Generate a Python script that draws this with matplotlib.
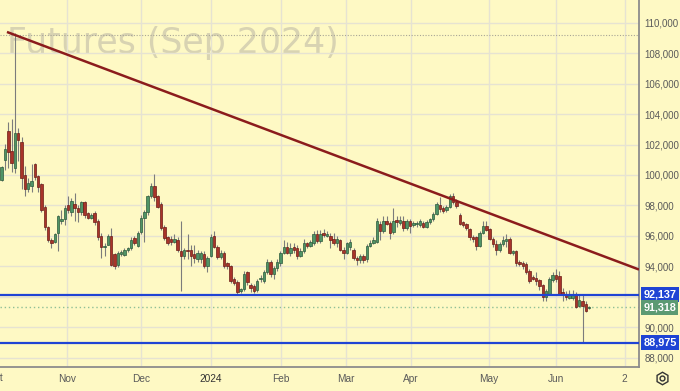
import numpy as np
import matplotlib.pyplot as plt
from matplotlib.transforms import blended_transform_factory

# daily candles, prices in thousands
opens = [99.7, 101.0, 102.87, 101.6, 100.45, 102.74, 102.15, 100.0, 99.1, 99.3,
         100.7, 99.9, 99.4, 97.9, 96.6, 95.7, 95.6, 96.2, 97.0, 97.1,
         98.0, 97.6, 98.1, 97.85, 97.6, 98.2, 97.5, 97.2, 97.5, 97.0,
         96.0, 95.25, 95.4, 96.0, 94.8, 94.1, 94.8, 94.75, 95.05, 95.2,
         95.85, 95.35, 96.25, 97.2, 97.6, 98.6, 99.3, 98.6, 98.1, 96.6,
         95.9, 95.8, 95.6, 95.7, 95.0, 94.65, 95.1, 95.05, 94.8, 94.5,
         94.5, 94.8, 94.05, 94.65, 96.0, 95.3, 94.6, 94.85, 94.2, 94.0,
         93.2, 93.0, 92.4, 92.5, 93.6, 92.75, 92.7, 92.45, 93.15, 93.05,
         93.6, 94.3, 93.5, 93.9, 94.2, 94.9, 95.3, 94.9, 95.3, 95.2,
         94.7, 95.0, 95.5, 95.35, 95.5, 96.15, 95.65, 96.2, 96.0, 96.0,
         95.8, 95.55, 95.7, 95.1, 94.9, 95.3, 95.05, 94.55, 94.4, 94.65,
         94.45, 95.35, 95.55, 95.6, 96.8, 96.35, 96.95, 96.85, 96.25, 97.05,
         96.85, 97.0, 96.55, 96.95, 96.7, 96.75, 96.7, 96.85, 96.6, 96.9,
         97.1, 97.45, 98.0, 97.85, 97.7, 97.9, 98.65, 98.25, 97.4, 96.9,
         96.75, 96.45, 95.95, 95.9, 95.35, 96.2, 96.65, 96.45, 95.8, 95.45,
         95.1, 95.45, 95.65, 95.8, 94.87, 95.0, 94.3, 94.2, 94.15, 93.7,
         93.3, 93.25, 93.1, 92.75, 92.0, 92.2, 93.1, 93.4, 93.35, 92.3,
         92.1, 91.95, 91.95, 92.1, 91.4, 91.75, 91.55, 91.25]
highs = [100.6, 102.06, 103.5, 103.7, 109.3, 103.1, 102.5, 100.6, 99.83, 100.7,
         100.8, 100.0, 99.5, 98.0, 96.65, 95.85, 96.2, 97.35, 97.7, 98.0,
         98.65, 98.5, 98.8, 98.0, 98.3, 98.3, 97.6, 97.5, 97.65, 97.1,
         96.2, 95.5, 96.1, 96.55, 94.9, 95.0, 95.05, 95.2, 95.3, 95.9,
         96.0, 96.35, 97.35, 97.7, 98.7, 99.5, 100.05, 98.7, 98.2, 96.7,
         96.0, 96.0, 96.1, 95.9, 97.0, 95.2, 96.1, 95.4, 95.4, 95.1,
         95.0, 95.0, 94.7, 96.15, 96.3, 95.4, 95.05, 95.0, 94.3, 94.1,
         93.3, 93.1, 92.6, 93.7, 93.7, 92.9, 92.85, 93.2, 93.4, 93.75,
         94.5, 94.4, 94.0, 94.45, 95.0, 95.7, 95.6, 95.5, 95.5, 95.4,
         95.2, 95.8, 95.6, 95.7, 96.35, 96.4, 96.4, 96.45, 96.3, 96.2,
         96.2, 96.0, 95.8, 95.3, 95.6, 95.8, 95.2, 94.65, 94.8, 94.8,
         95.45, 95.7, 95.9, 97.15, 97.0, 97.3, 97.3, 97.0, 97.85, 97.3,
         97.3, 97.3, 97.1, 97.1, 97.0, 97.0, 97.1, 97.0, 97.05, 97.2,
         97.6, 98.2, 98.55, 97.95, 98.0, 98.75, 98.8, 98.4, 97.5, 97.0,
         96.85, 96.5, 96.05, 96.0, 96.3, 97.0, 97.0, 96.55, 95.9, 95.7,
         95.6, 96.0, 96.1, 95.95, 95.1, 95.1, 94.4, 94.35, 94.3, 93.8,
         93.4, 93.6, 93.2, 92.85, 92.5, 93.3, 93.6, 93.8, 93.7, 92.6,
         92.4, 92.45, 92.45, 92.3, 92.1, 92.1, 91.75, 91.4]
lows = [99.6, 100.3, 100.44, 100.2, 100.1, 100.95, 99.1, 98.65, 98.86, 98.86,
        99.7, 98.9, 97.6, 96.4, 95.6, 95.2, 95.5, 95.0, 96.8, 96.7,
        97.5, 97.3, 97.0, 96.9, 97.4, 97.2, 97.1, 97.1, 96.7, 95.7,
        94.55, 94.7, 95.4, 94.05, 93.8, 93.95, 94.7, 94.7, 94.95, 95.1,
        95.4, 95.25, 96.1, 95.6, 97.4, 98.5, 98.3, 97.8, 96.4, 95.7,
        95.4, 95.4, 95.5, 94.97, 92.35, 94.5, 94.5, 94.05, 94.25, 94.3,
        94.2, 93.9, 93.6, 94.6, 95.2, 94.5, 94.5, 93.9, 93.8, 92.9,
        92.8, 92.2, 92.25, 92.4, 92.8, 92.3, 92.25, 92.3, 93.0, 92.9,
        93.5, 93.3, 93.2, 93.7, 94.0, 94.8, 94.8, 94.7, 94.9, 94.5,
        94.6, 94.9, 95.2, 95.3, 95.4, 95.5, 95.5, 95.95, 95.9, 95.2,
        95.4, 95.3, 95.0, 94.5, 94.8, 95.1, 94.4, 94.1, 94.2, 94.2,
        94.3, 95.25, 95.45, 95.5, 95.7, 96.2, 96.7, 95.8, 96.1, 96.6,
        96.7, 96.3, 96.4, 96.2, 96.6, 96.6, 96.6, 96.5, 96.5, 96.8,
        97.0, 97.35, 97.6, 97.5, 97.55, 97.8, 98.1, 97.85, 96.7, 96.6,
        96.4, 95.75, 95.6, 95.1, 95.25, 96.1, 96.3, 95.7, 95.3, 94.72,
        94.95, 95.35, 95.25, 94.8, 94.75, 94.05, 94.0, 93.8, 93.5, 92.9,
        93.1, 92.75, 92.45, 91.7, 91.7, 92.1, 93.0, 93.0, 92.1, 91.75,
        91.8, 91.85, 91.8, 91.25, 91.3, 89.0, 90.97, 91.2]
closes = [100.5, 101.7, 101.5, 100.8, 102.74, 102.3, 99.77, 99.1, 99.5, 99.6,
          99.85, 99.2, 97.7, 96.6, 95.7, 95.5, 96.1, 97.3, 97.1, 97.8,
          97.7, 98.3, 97.85, 97.55, 98.2, 97.4, 97.2, 97.35, 96.9, 95.9,
          95.3, 95.3, 96.0, 94.1, 94.05, 94.85, 94.95, 95.05, 95.2, 95.7,
          95.5, 96.2, 97.2, 97.6, 98.6, 99.3, 98.55, 97.9, 96.5, 95.85,
          95.5, 95.6, 95.8, 95.05, 94.65, 95.1, 95.0, 94.7, 94.55, 94.9,
          94.85, 94.05, 94.55, 95.9, 95.25, 94.6, 94.9, 94.0, 94.0, 93.05,
          92.9, 92.3, 92.5, 93.5, 92.95, 92.55, 92.4, 93.05, 93.25, 93.6,
          94.3, 93.5, 93.9, 94.3, 94.9, 95.3, 94.9, 95.2, 95.1, 94.7,
          95.0, 95.55, 95.35, 95.6, 96.15, 95.65, 96.15, 96.05, 96.15, 95.75,
          95.55, 95.8, 95.1, 94.85, 95.5, 95.6, 94.55, 94.4, 94.65, 94.4,
          95.35, 95.55, 95.75, 97.0, 96.35, 97.0, 96.8, 96.2, 97.0, 96.9,
          97.05, 96.5, 96.95, 96.65, 96.85, 96.85, 96.95, 96.6, 96.9, 97.1,
          97.45, 98.1, 97.75, 97.65, 97.9, 98.65, 98.25, 97.95, 96.8, 96.7,
          96.5, 95.9, 95.8, 95.35, 96.2, 96.65, 96.4, 95.8, 95.45, 95.1,
          95.45, 95.75, 95.8, 94.87, 95.0, 94.2, 94.15, 94.0, 93.6, 93.07,
          93.2, 93.05, 92.7, 91.98, 92.4, 93.15, 93.4, 93.2, 92.2, 92.1,
          92.0, 92.15, 92.2, 91.35, 91.8, 91.4, 91.1, 91.318]

month_pos = [19.7, 42.0, 63.0, 84.1, 103.7, 123.3, 146.8, 167.0, 187.7]
month_labels = ['Nov', 'Dec', '2024', 'Feb', 'Mar', 'Apr', 'May', 'Jun', '2']
price_ticks = [88, 90, 92, 94, 96, 98, 100, 102, 104, 106, 108, 110]

trend_x = [1.6, 192.0]
trend_y = [109.39, 93.79]
level_hi = 92.137
level_lo = 88.975
last_price = 91.318
top_dotted = 109.2

bg = '#fef9c4'
green, green_edge = '#4f9466', '#2c5a3b'
red, red_edge = '#a8342a', '#6b1c16'
blue = '#1f44d4'

plt.rcParams['font.family'] = ['Liberation Sans', 'DejaVu Sans']

fig = plt.figure(figsize=(6.8, 3.91), dpi=100, facecolor=bg)
ax = fig.add_axes([0, 1 - 367 / 391, 639 / 680, 367 / 391], facecolor=bg)
ax.set_xlim(-0.5, 192)
ax.set_ylim(87.39, 111.49)

# grid; the 92,000 label sits under the 92,137 tag, so it is left blank
ax.set_xticks(month_pos, month_labels)
ax.set_yticks(price_ticks, ['' if v == 92 else f'{v * 1000:,.0f}' for v in price_ticks])
ax.grid(True, color='#e6e3d2', lw=1, zorder=0)
ax.set_axisbelow(True)
ax.yaxis.tick_right()
ax.tick_params(axis='x', length=0, labelsize=7.3, colors='#5a5a5a', pad=5)
ax.tick_params(axis='y', length=0, labelsize=7, colors='#5a5a5a', pad=4)
for lab in ax.get_xticklabels():
    if lab.get_text() == '2024':
        lab.set_color('#333333')
for s in ['top', 'left']:
    ax.spines[s].set_visible(False)
for s in ['right', 'bottom']:
    ax.spines[s].set_color('#8c8c8c')
    ax.spines[s].set_linewidth(1.3)

xb = blended_transform_factory(ax.transData, ax.transAxes)
ax.text(-2.0, -0.031, 'Oct', transform=xb, ha='center', va='center',
        fontsize=7.3, color='#5a5a5a', clip_on=False)

# watermark
ax.text(7 / 680, 1 - 53 / 391, 'Futures (Sep 2024)', transform=fig.transFigure,
        fontsize=25, color='#d8d3b2', family='DejaVu Sans', va='baseline', zorder=0.5)

# candles
x = np.arange(len(opens))
o = np.array(opens)
c = np.array(closes)
up = c >= o
ax.vlines(x, lows, highs, color='#7c7c7c', lw=0.8, zorder=2)
ax.bar(x, np.maximum(np.abs(c - o), 0.07), bottom=np.minimum(o, c), width=0.74,
       color=np.where(up, green, red), edgecolor=np.where(up, green_edge, red_edge),
       linewidth=0.5, zorder=3)

# levels
ax.axhline(top_dotted, color='#a8a596', lw=0.8, ls=(0, (1, 1.5)), zorder=1)
ax.axhline(last_price, color='#8fbf96', lw=1, ls=(0, (1, 2)), zorder=1)
ax.axhline(level_hi, color=blue, lw=1.6, zorder=5)
ax.axhline(level_lo, color=blue, lw=1.6, zorder=5)
ax.plot(trend_x, trend_y, color='#8b1c1c', lw=1.8, zorder=4, solid_capstyle='butt')

# price tags
yb = blended_transform_factory(ax.transAxes, ax.transData)
for val, col in [(level_hi, blue), (last_price, '#5b9a72'), (level_lo, blue)]:
    ax.text(1.0065, val, f'{val * 1000:,.0f}', transform=yb, ha='left', va='center',
            fontsize=7.8, fontweight='bold', color='white', clip_on=False, zorder=10,
            bbox=dict(boxstyle='square,pad=0.22', fc=col, ec='none'))

# settings icon
fig.lines.append(plt.Line2D([662 / 680], [1 - 378 / 391], transform=fig.transFigure,
                            marker='h', ms=9, mfc='none', mec='#333333', mew=1))
fig.lines.append(plt.Line2D([662 / 680], [1 - 378 / 391], transform=fig.transFigure,
                            marker='o', ms=3.5, mfc='none', mec='#333333', mew=1))

fig.savefig('out.png', dpi=100, facecolor=bg)
